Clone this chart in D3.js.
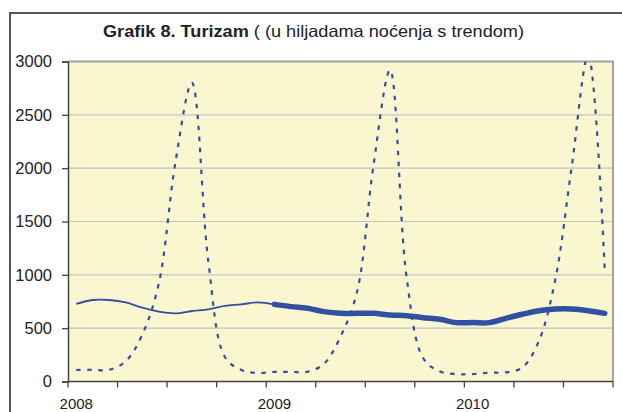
<!DOCTYPE html>
<html><head><meta charset="utf-8">
<script src="https://cdn.jsdelivr.net/npm/d3@7"></script>
<style>
html,body{margin:0;padding:0;background:#fff;}
svg{display:block;font-family:"Liberation Sans",Arial,sans-serif;}
</style></head>
<body><svg id="c" width="622" height="412"></svg>
<script>
// ---- data ----
const years = ["2008","2009","2010"];
const months = [];
years.forEach(y => { for (let m = 1; m <= 12; m++) months.push(y + "-" + String(m).padStart(2,"0")); });
months.splice(33); // Jan 2008 .. Sep 2010
const tourism = [108,110,110,190,440,920,2050,2800,1120,230,108,80,
                 90,90,91,165,420,840,2030,2920,980,220,95,70,
                 70,83,85,130,375,950,2015,3060,1045];
const trend2008 = [727,764,764,742,692,655,639,661,677,708,723,742,723];       // Jan 2008 - Jan 2009
const trend0910 = [723,702,686,655,639,639,639,623,617,598,583,552,552,552,592,630,664,680,680,664,639]; // Jan 2009 - Sep 2010
const yTicks = [0,500,1000,1500,2000,2500,3000];
const xLabels = ["2008","2009","2010"];
const titleBold = "Grafik 8. Turizam";
const titleRest = " ( (u hiljadama noćenja s trendom)";

// ---- layout ----
const svg = d3.select("#c");
const L = 68, R = 613, T = 61.5, B = 381.5;
const blue = "#3150a1";

// outer frame
svg.append("rect").attr("x",10).attr("y",13).attr("width",640).attr("height",420)
  .attr("fill","#fff").attr("stroke","#555").attr("stroke-width",2);

const x = d3.scaleBand().domain(months).range([L,R]).padding(0);
const cx = d => x(d) + x.bandwidth()/2;
const y = d3.scaleLinear().domain([0,3000]).range([B,T]);

// plot area
svg.append("rect").attr("x",L).attr("y",T).attr("width",R-L).attr("height",B-T)
  .attr("fill","#faf6d0");

// gridlines
svg.append("g").selectAll("line").data(yTicks.filter(v=>v>0)).join("line")
  .attr("x1",L).attr("x2",R).attr("y1",d=>y(d)).attr("y2",d=>y(d))
  .attr("stroke","#c4c4c4").attr("stroke-width",1.2);

// top and right border
svg.append("path").attr("d",`M${L},${T}H${R}V${B}`).attr("fill","none")
  .attr("stroke","#a3a3a3").attr("stroke-width",2);

// clip
svg.append("clipPath").attr("id","clip").append("rect")
  .attr("x",L).attr("y",T).attr("width",R-L).attr("height",B-T);

const g = svg.append("g").attr("clip-path","url(#clip)");
const curve = d3.curveCatmullRom.alpha(0.5);

const lineT = d3.line().x((d,i)=>cx(months[i])).y(d=>y(d)).curve(curve);
g.append("path").datum(tourism).attr("d",lineT).attr("fill","none")
  .attr("stroke",blue).attr("stroke-width",2.2).attr("stroke-dasharray","4.5,6.5");

const line08 = d3.line().x((d,i)=>cx(months[i])).y(d=>y(d)).curve(curve);
g.append("path").datum(trend2008).attr("d",line08).attr("fill","none")
  .attr("stroke",blue).attr("stroke-width",1.8);

const line09 = d3.line().x((d,i)=>cx(months[i+12])).y(d=>y(d)).curve(curve);
g.append("path").datum(trend0910).attr("d",line09).attr("fill","none")
  .attr("stroke",blue).attr("stroke-width",5.5).attr("stroke-linecap","round");

// y axis
const ya = svg.append("g").attr("transform",`translate(${L},0)`)
  .call(d3.axisLeft(y).tickValues(yTicks).tickSize(6).tickPadding(10).tickFormat(d3.format("d")));
ya.select(".domain").attr("stroke","#444").attr("stroke-width",1.5);
ya.selectAll(".tick line").attr("stroke","#444").attr("stroke-width",1.3);
ya.selectAll(".tick text").attr("font-size",16.5).attr("fill","#222")
  .attr("font-family","Liberation Sans, Arial, sans-serif");

// x axis
const xa = svg.append("g").attr("transform",`translate(0,${B})`);
xa.append("line").attr("x1",L).attr("x2",R).attr("stroke","#444").attr("stroke-width",1.5);
const tickPos = months.filter((m,i)=>i%3===0).map(m=>x(m)).concat([R]);
xa.selectAll("line.t").data(tickPos).join("line").attr("class","t")
  .attr("x1",d=>d).attr("x2",d=>d).attr("y1",0).attr("y2",6)
  .attr("stroke","#444").attr("stroke-width",1.3);
xa.selectAll("text").data(xLabels).join("text")
  .attr("x",d=>cx(d+"-01")).attr("y",27).attr("text-anchor","middle")
  .attr("font-size",15).attr("fill","#222").text(d=>d);

// title
const t = svg.append("text").attr("x",313.5).attr("y",37).attr("text-anchor","middle")
  .attr("font-size",16.5).attr("fill","#222")
  .attr("textLength",421).attr("lengthAdjust","spacingAndGlyphs");
t.append("tspan").attr("font-weight","bold").text(titleBold);
t.append("tspan").text(titleRest);
</script></body></html>
